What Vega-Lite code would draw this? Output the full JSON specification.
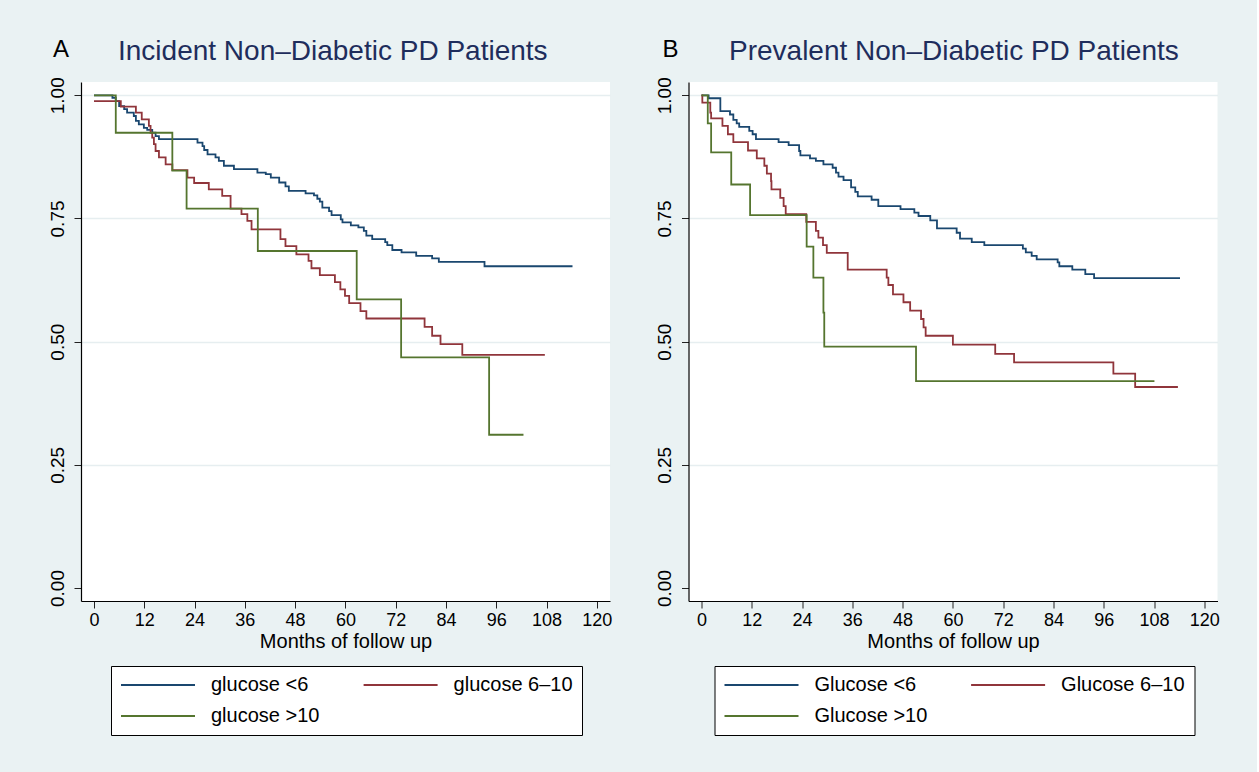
{
  "$schema": "https://vega.github.io/schema/vega-lite/v6.json",
  "background": "#eaf2f3",
  "padding": {"left": 48, "top": 37, "right": 37, "bottom": 37},
  "bounds": "flush",
  "spacing": 78.5,
  "datasets": {
    "a": [
      {"t":0,"s":1.0,"g":"glucose <6"},{"t":4.4,"s":0.995,"g":"glucose <6"},{"t":5.2,"s":0.988,"g":"glucose <6"},{"t":6.0,"s":0.978,"g":"glucose <6"},{"t":7.2,"s":0.972,"g":"glucose <6"},{"t":7.9,"s":0.965,"g":"glucose <6"},{"t":9.5,"s":0.958,"g":"glucose <6"},{"t":10.0,"s":0.948,"g":"glucose <6"},{"t":10.7,"s":0.941,"g":"glucose <6"},{"t":11.9,"s":0.934,"g":"glucose <6"},{"t":12.7,"s":0.930,"g":"glucose <6"},{"t":13.9,"s":0.924,"g":"glucose <6"},{"t":14.7,"s":0.917,"g":"glucose <6"},{"t":15.5,"s":0.911,"g":"glucose <6"},{"t":24.7,"s":0.904,"g":"glucose <6"},{"t":25.9,"s":0.897,"g":"glucose <6"},{"t":26.3,"s":0.889,"g":"glucose <6"},{"t":27.1,"s":0.880,"g":"glucose <6"},{"t":29.0,"s":0.874,"g":"glucose <6"},{"t":29.8,"s":0.867,"g":"glucose <6"},{"t":31.0,"s":0.857,"g":"glucose <6"},{"t":33.4,"s":0.850,"g":"glucose <6"},{"t":39.0,"s":0.843,"g":"glucose <6"},{"t":41.0,"s":0.840,"g":"glucose <6"},{"t":42.2,"s":0.833,"g":"glucose <6"},{"t":44.2,"s":0.823,"g":"glucose <6"},{"t":45.7,"s":0.815,"g":"glucose <6"},{"t":46.5,"s":0.806,"g":"glucose <6"},{"t":50.5,"s":0.801,"g":"glucose <6"},{"t":52.5,"s":0.797,"g":"glucose <6"},{"t":53.3,"s":0.790,"g":"glucose <6"},{"t":53.9,"s":0.784,"g":"glucose <6"},{"t":54.5,"s":0.772,"g":"glucose <6"},{"t":56.1,"s":0.765,"g":"glucose <6"},{"t":56.7,"s":0.757,"g":"glucose <6"},{"t":58.9,"s":0.748,"g":"glucose <6"},{"t":59.3,"s":0.742,"g":"glucose <6"},{"t":61.3,"s":0.736,"g":"glucose <6"},{"t":63.1,"s":0.732,"g":"glucose <6"},{"t":64.4,"s":0.725,"g":"glucose <6"},{"t":65.0,"s":0.715,"g":"glucose <6"},{"t":66.4,"s":0.708,"g":"glucose <6"},{"t":69.5,"s":0.702,"g":"glucose <6"},{"t":70.0,"s":0.696,"g":"glucose <6"},{"t":71.2,"s":0.686,"g":"glucose <6"},{"t":73.4,"s":0.681,"g":"glucose <6"},{"t":76.9,"s":0.674,"g":"glucose <6"},{"t":80.7,"s":0.669,"g":"glucose <6"},{"t":82.3,"s":0.662,"g":"glucose <6"},{"t":93.2,"s":0.653,"g":"glucose <6"},{"t":114.2,"s":0.653,"g":"glucose <6"},
      {"t":0,"s":0.988,"g":"glucose 6–10"},{"t":6.4,"s":0.977,"g":"glucose 6–10"},{"t":10.0,"s":0.965,"g":"glucose 6–10"},{"t":11.4,"s":0.951,"g":"glucose 6–10"},{"t":13.1,"s":0.938,"g":"glucose 6–10"},{"t":13.5,"s":0.924,"g":"glucose 6–10"},{"t":13.9,"s":0.914,"g":"glucose 6–10"},{"t":14.3,"s":0.901,"g":"glucose 6–10"},{"t":14.7,"s":0.887,"g":"glucose 6–10"},{"t":15.5,"s":0.874,"g":"glucose 6–10"},{"t":17.1,"s":0.860,"g":"glucose 6–10"},{"t":18.7,"s":0.848,"g":"glucose 6–10"},{"t":22.3,"s":0.833,"g":"glucose 6–10"},{"t":23.9,"s":0.822,"g":"glucose 6–10"},{"t":27.4,"s":0.809,"g":"glucose 6–10"},{"t":30.6,"s":0.796,"g":"glucose 6–10"},{"t":32.6,"s":0.770,"g":"glucose 6–10"},{"t":35.2,"s":0.759,"g":"glucose 6–10"},{"t":36.6,"s":0.745,"g":"glucose 6–10"},{"t":37.6,"s":0.728,"g":"glucose 6–10"},{"t":44.5,"s":0.708,"g":"glucose 6–10"},{"t":45.7,"s":0.694,"g":"glucose 6–10"},{"t":48.3,"s":0.677,"g":"glucose 6–10"},{"t":51.2,"s":0.664,"g":"glucose 6–10"},{"t":51.9,"s":0.649,"g":"glucose 6–10"},{"t":53.9,"s":0.635,"g":"glucose 6–10"},{"t":57.5,"s":0.621,"g":"glucose 6–10"},{"t":58.8,"s":0.606,"g":"glucose 6–10"},{"t":59.9,"s":0.593,"g":"glucose 6–10"},{"t":60.9,"s":0.578,"g":"glucose 6–10"},{"t":63.6,"s":0.562,"g":"glucose 6–10"},{"t":65.0,"s":0.547,"g":"glucose 6–10"},{"t":78.9,"s":0.530,"g":"glucose 6–10"},{"t":80.7,"s":0.512,"g":"glucose 6–10"},{"t":82.7,"s":0.495,"g":"glucose 6–10"},{"t":87.9,"s":0.473,"g":"glucose 6–10"},{"t":107.6,"s":0.473,"g":"glucose 6–10"},
      {"t":0,"s":1.0,"g":"glucose >10"},{"t":5.2,"s":0.924,"g":"glucose >10"},{"t":18.7,"s":0.847,"g":"glucose >10"},{"t":22.1,"s":0.770,"g":"glucose >10"},{"t":39.1,"s":0.684,"g":"glucose >10"},{"t":62.7,"s":0.586,"g":"glucose >10"},{"t":73.3,"s":0.468,"g":"glucose >10"},{"t":94.3,"s":0.311,"g":"glucose >10"},{"t":102.5,"s":0.311,"g":"glucose >10"}
    ],
    "b": [
      {"t":0,"s":1.0,"g":"Glucose <6"},{"t":1.7,"s":0.994,"g":"Glucose <6"},{"t":4.5,"s":0.968,"g":"Glucose <6"},{"t":6.8,"s":0.961,"g":"Glucose <6"},{"t":7.6,"s":0.950,"g":"Glucose <6"},{"t":8.4,"s":0.943,"g":"Glucose <6"},{"t":9.0,"s":0.936,"g":"Glucose <6"},{"t":11.4,"s":0.928,"g":"Glucose <6"},{"t":12.2,"s":0.921,"g":"Glucose <6"},{"t":13.0,"s":0.911,"g":"Glucose <6"},{"t":18.4,"s":0.905,"g":"Glucose <6"},{"t":20.8,"s":0.899,"g":"Glucose <6"},{"t":23.3,"s":0.887,"g":"Glucose <6"},{"t":23.6,"s":0.878,"g":"Glucose <6"},{"t":25.9,"s":0.872,"g":"Glucose <6"},{"t":27.3,"s":0.867,"g":"Glucose <6"},{"t":29.1,"s":0.860,"g":"Glucose <6"},{"t":31.3,"s":0.853,"g":"Glucose <6"},{"t":32.1,"s":0.843,"g":"Glucose <6"},{"t":32.7,"s":0.835,"g":"Glucose <6"},{"t":33.9,"s":0.828,"g":"Glucose <6"},{"t":35.7,"s":0.813,"g":"Glucose <6"},{"t":36.7,"s":0.804,"g":"Glucose <6"},{"t":37.3,"s":0.795,"g":"Glucose <6"},{"t":40.6,"s":0.788,"g":"Glucose <6"},{"t":42.2,"s":0.775,"g":"Glucose <6"},{"t":47.5,"s":0.769,"g":"Glucose <6"},{"t":50.8,"s":0.762,"g":"Glucose <6"},{"t":51.8,"s":0.755,"g":"Glucose <6"},{"t":54.6,"s":0.746,"g":"Glucose <6"},{"t":56.2,"s":0.730,"g":"Glucose <6"},{"t":60.9,"s":0.721,"g":"Glucose <6"},{"t":61.7,"s":0.709,"g":"Glucose <6"},{"t":64.5,"s":0.702,"g":"Glucose <6"},{"t":67.5,"s":0.696,"g":"Glucose <6"},{"t":76.7,"s":0.689,"g":"Glucose <6"},{"t":77.4,"s":0.681,"g":"Glucose <6"},{"t":78.8,"s":0.674,"g":"Glucose <6"},{"t":80.0,"s":0.667,"g":"Glucose <6"},{"t":85.0,"s":0.661,"g":"Glucose <6"},{"t":85.4,"s":0.653,"g":"Glucose <6"},{"t":88.5,"s":0.646,"g":"Glucose <6"},{"t":91.6,"s":0.637,"g":"Glucose <6"},{"t":93.7,"s":0.629,"g":"Glucose <6"},{"t":114.2,"s":0.629,"g":"Glucose <6"},
      {"t":0,"s":1.0,"g":"Glucose 6–10"},{"t":0.2,"s":0.985,"g":"Glucose 6–10"},{"t":2.1,"s":0.965,"g":"Glucose 6–10"},{"t":2.3,"s":0.953,"g":"Glucose 6–10"},{"t":5.0,"s":0.938,"g":"Glucose 6–10"},{"t":6.3,"s":0.921,"g":"Glucose 6–10"},{"t":7.6,"s":0.905,"g":"Glucose 6–10"},{"t":11.1,"s":0.888,"g":"Glucose 6–10"},{"t":13.2,"s":0.872,"g":"Glucose 6–10"},{"t":15.0,"s":0.857,"g":"Glucose 6–10"},{"t":15.6,"s":0.841,"g":"Glucose 6–10"},{"t":16.6,"s":0.826,"g":"Glucose 6–10"},{"t":16.7,"s":0.809,"g":"Glucose 6–10"},{"t":18.8,"s":0.792,"g":"Glucose 6–10"},{"t":19.6,"s":0.775,"g":"Glucose 6–10"},{"t":20.1,"s":0.759,"g":"Glucose 6–10"},{"t":25.0,"s":0.743,"g":"Glucose 6–10"},{"t":27.3,"s":0.725,"g":"Glucose 6–10"},{"t":27.9,"s":0.711,"g":"Glucose 6–10"},{"t":29.0,"s":0.696,"g":"Glucose 6–10"},{"t":29.9,"s":0.680,"g":"Glucose 6–10"},{"t":34.9,"s":0.646,"g":"Glucose 6–10"},{"t":44.2,"s":0.630,"g":"Glucose 6–10"},{"t":44.6,"s":0.615,"g":"Glucose 6–10"},{"t":45.7,"s":0.596,"g":"Glucose 6–10"},{"t":48.2,"s":0.580,"g":"Glucose 6–10"},{"t":49.8,"s":0.563,"g":"Glucose 6–10"},{"t":52.4,"s":0.546,"g":"Glucose 6–10"},{"t":53.0,"s":0.529,"g":"Glucose 6–10"},{"t":53.5,"s":0.512,"g":"Glucose 6–10"},{"t":60.0,"s":0.494,"g":"Glucose 6–10"},{"t":70.1,"s":0.475,"g":"Glucose 6–10"},{"t":74.6,"s":0.458,"g":"Glucose 6–10"},{"t":98.3,"s":0.435,"g":"Glucose 6–10"},{"t":103.5,"s":0.408,"g":"Glucose 6–10"},{"t":113.7,"s":0.408,"g":"Glucose 6–10"},
      {"t":0,"s":1.0,"g":"Glucose >10"},{"t":1.5,"s":0.943,"g":"Glucose >10"},{"t":2.3,"s":0.884,"g":"Glucose >10"},{"t":7.1,"s":0.819,"g":"Glucose >10"},{"t":11.6,"s":0.757,"g":"Glucose >10"},{"t":25.1,"s":0.693,"g":"Glucose >10"},{"t":26.7,"s":0.630,"g":"Glucose >10"},{"t":29.1,"s":0.559,"g":"Glucose >10"},{"t":29.3,"s":0.490,"g":"Glucose >10"},{"t":51.2,"s":0.420,"g":"Glucose >10"},{"t":108.1,"s":0.420,"g":"Glucose >10"}
    ]
  },
  "hconcat": [
    {
      "width": 529,
      "height": 519,
      "data": {"name": "a"},
      "title": {"text": "Incident Non–Diabetic PD Patients", "anchor": "start", "frame": "group", "dx": 37, "dy": 25.6, "baseline": "alphabetic", "offset": -25},
      "mark": {"type": "line", "interpolate": "step-after", "strokeWidth": 1.8},
      "encoding": {
        "x": {"field": "t", "type": "quantitative", "scale": {"domain": [-3.1, 123.15], "nice": false, "zero": false},
              "axis": {"values": [0,12,24,36,48,60,72,84,96,108,120], "title": "Months of follow up", "grid": false}},
        "y": {"field": "s", "type": "quantitative", "scale": {"domain": [-0.0264, 1.027], "nice": false, "zero": false},
              "axis": {"values": [0,0.25,0.5,0.75,1], "format": ".2f", "title": "A", "titleX": -28.5, "titleY": -26}},
        "color": {"field": "g", "type": "nominal",
                  "scale": {"domain": ["glucose <6", "glucose 6–10", "glucose >10"], "range": ["#1a476f", "#90353b", "#55752f"]},
                  "legend": {"legendX": 30, "legendY": 584}}
      }
    },
    {
      "width": 529,
      "height": 519,
      "data": {"name": "b"},
      "title": {"text": "Prevalent Non–Diabetic PD Patients", "anchor": "start", "frame": "group", "dx": 40.5, "dy": 25.6, "baseline": "alphabetic", "offset": -25},
      "mark": {"type": "line", "interpolate": "step-after", "strokeWidth": 1.8},
      "encoding": {
        "x": {"field": "t", "type": "quantitative", "scale": {"domain": [-3.1, 123.15], "nice": false, "zero": false},
              "axis": {"values": [0,12,24,36,48,60,72,84,96,108,120], "title": "Months of follow up", "grid": false}},
        "y": {"field": "s", "type": "quantitative", "scale": {"domain": [-0.0264, 1.027], "nice": false, "zero": false},
              "axis": {"values": [0,0.25,0.5,0.75,1], "format": ".2f", "title": "B", "titleX": -26.5, "titleY": -26}},
        "color": {"field": "g", "type": "nominal",
                  "scale": {"domain": ["Glucose <6", "Glucose 6–10", "Glucose >10"], "range": ["#1a476f", "#90353b", "#55752f"]},
                  "legend": {"legendX": 26, "legendY": 584}}
      }
    }
  ],
  "resolve": {"scale": {"color": "independent"}, "legend": {"color": "independent"}},
  "config": {
    "font": "Liberation Sans",
    "view": {"fill": "white", "stroke": null},
    "title": {"fontSize": 28, "fontWeight": "normal", "color": "#1e2d5c", "font": "Liberation Sans"},
    "axis": {"domainColor": "black", "domainWidth": 1.2, "tickColor": "#222222", "tickWidth": 1, "tickSize": 7,
             "labelColor": "black", "titleColor": "black", "labelFont": "Liberation Sans", "titleFont": "Liberation Sans",
             "titleFontWeight": "normal"},
    "axisX": {"labelFontSize": 18, "labelPadding": 3, "titleFontSize": 20, "titlePadding": 2, "labelFlush": false},
    "axisY": {"labelFontSize": 19, "labelAngle": 270, "labelAlign": "center", "labelBaseline": "bottom", "labelPadding": 7,
              "titleAngle": 0, "titleAlign": "left", "titleBaseline": "alphabetic", "titleFontSize": 24,
              "grid": true, "gridColor": "#e6eef0", "gridWidth": 1.5,
              "gridOpacity": {"condition": {"test": "datum.value === 0", "value": 0}, "value": 1}},
    "legend": {"orient": "none", "direction": "horizontal", "columns": 2, "title": null, "strokeColor": "black", "fillColor": "white", "padding": 9,
               "symbolType": "stroke", "symbolSize": 5476, "symbolStrokeWidth": 1.8, "clipHeight": 20, "rowPadding": 11,
               "columnPadding": 42.6, "labelFontSize": 20, "labelFont": "Liberation Sans", "labelOffset": 15, "labelColor": "black",
               "labelLimit": 300}
  }
}
